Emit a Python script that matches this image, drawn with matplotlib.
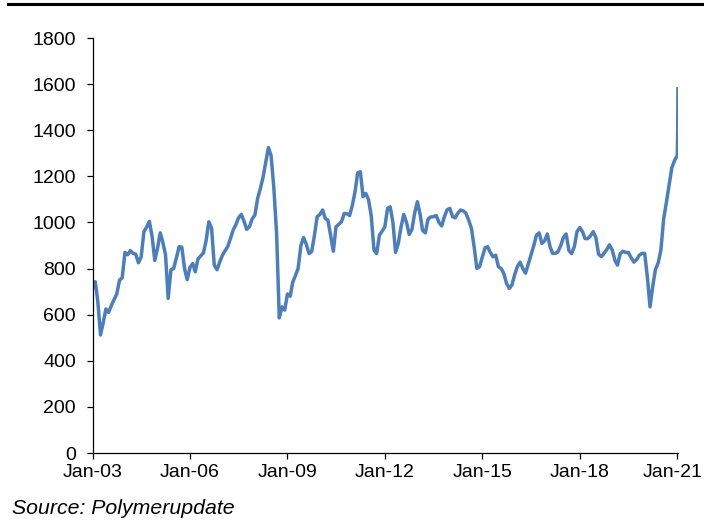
#!/usr/bin/env python3
"""Polymer price index, Jan-03 to Jan-21 (source: Polymerupdate)."""

import matplotlib
matplotlib.use("Agg")
import matplotlib.pyplot as plt
import matplotlib.dates as mdates
from matplotlib.lines import Line2D
from matplotlib.transforms import ScaledTranslation
import pandas as pd

plt.rcParams["font.family"] = ["Liberation Sans", "DejaVu Sans"]

# monthly readings, Jan 2003 .. Dec 2020 (one row per year)
VALUES_BY_YEAR = [
    [715, 743, 660, 512, 565, 625, 610, 640, 665, 690, 750, 760],          # 2003
    [870, 860, 878, 866, 862, 825, 850, 960, 980, 1005, 940, 835],         # 2004
    [888, 955, 915, 860, 671, 795, 800, 846, 895, 893, 800, 752],          # 2005
    [805, 822, 786, 842, 855, 868, 920, 1003, 975, 815, 795, 828],         # 2006
    [858, 878, 895, 930, 967, 990, 1020, 1035, 1005, 970, 982, 1015],      # 2007
    [1032, 1105, 1145, 1195, 1260, 1325, 1290, 1150, 953, 586, 634, 620],  # 2008
    [690, 680, 740, 770, 801, 900, 935, 905, 865, 875, 945, 1025],         # 2009
    [1035, 1054, 1018, 1010, 945, 875, 981, 992, 1003, 1039, 1038, 1030],  # 2010
    [1075, 1135, 1215, 1220, 1112, 1126, 1100, 1030, 880, 865, 945, 962],  # 2011
    [981, 1062, 1068, 1000, 870, 910, 980, 1035, 1000, 948, 970, 1040],    # 2012
    [1090, 1035, 965, 955, 1015, 1024, 1025, 1030, 1000, 985, 1025, 1055], # 2013
    [1061, 1025, 1020, 1040, 1054, 1050, 1040, 1010, 974, 895, 801, 808],  # 2014
    [850, 890, 895, 870, 851, 858, 808, 800, 778, 735, 714, 730],          # 2015
    [775, 810, 828, 800, 780, 820, 858, 898, 945, 955, 909, 920],          # 2016
    [950, 895, 866, 866, 873, 900, 935, 950, 878, 865, 895, 960],          # 2017
    [978, 960, 930, 930, 942, 960, 935, 862, 852, 866, 883, 903],          # 2018
    [880, 835, 815, 865, 875, 870, 870, 848, 828, 838, 858, 866],          # 2019
    [866, 760, 634, 725, 796, 825, 880, 1015, 1087, 1160, 1237, 1268],     # 2020
]
# the last few weeks, where the index shoots up
TAIL_DATES = ["2021-01-01", "2021-01-06", "2021-01-09"]
TAIL_VALUES = [1290, 1390, 1580]

X_TICK_DATES = ["2003-01-01", "2006-01-01", "2009-01-01", "2012-01-01",
                "2015-01-01", "2018-01-01", "2021-01-01"]
Y_TICKS = [0, 200, 400, 600, 800, 1000, 1200, 1400, 1600, 1800]
SOURCE = "Source: Polymerupdate"

LINE_COLOR = "#4A7EBF"


def main() -> None:
    values = [v for row in VALUES_BY_YEAR for v in row] + TAIL_VALUES
    dates = list(pd.date_range("2003-01-01", periods=12 * len(VALUES_BY_YEAR), freq="MS"))
    dates += list(pd.to_datetime(TAIL_DATES))

    fig = plt.figure(figsize=(7.04, 5.23), dpi=100)
    ax = fig.add_axes([0.1314, 0.1338, 0.8316, 0.7935])

    ax.plot(dates, values, color=LINE_COLOR, linewidth=2.5, solid_joinstyle="round")

    ax.set_ylim(0, 1800)
    ax.set_yticks(Y_TICKS)
    ax.set_xlim(pd.Timestamp("2003-01-01"), pd.Timestamp("2021-01-09"))
    ax.set_xticks(pd.to_datetime(X_TICK_DATES))
    ax.xaxis.set_major_formatter(mdates.DateFormatter("Jan-%y"))

    for side in ("top", "right"):
        ax.spines[side].set_visible(False)
    for side in ("left", "bottom"):
        ax.spines[side].set_linewidth(0.9)
        ax.spines[side].set_color("black")

    ax.tick_params(axis="both", direction="out", length=4, width=0.9,
                   colors="black", labelsize=14)
    ax.tick_params(axis="y", pad=8)
    ax.tick_params(axis="x", pad=4)

    # the last date label sits against the right edge; nudge it in a little
    last = ax.get_xticklabels()[-1]
    last.set_transform(last.get_transform() + ScaledTranslation(-5 / 100, 0, fig.dpi_scale_trans))

    # thick rule across the top of the figure
    fig.add_artist(Line2D([0.012, 1.0], [0.9914, 0.9914], transform=fig.transFigure,
                          color="black", linewidth=2.2))

    fig.text(12 / 704, 1 - 509 / 523, SOURCE, fontsize=15.3, style="italic",
             ha="left", va="center")

    fig.savefig("out.png", dpi=100)
    plt.close(fig)


if __name__ == "__main__":
    main()
